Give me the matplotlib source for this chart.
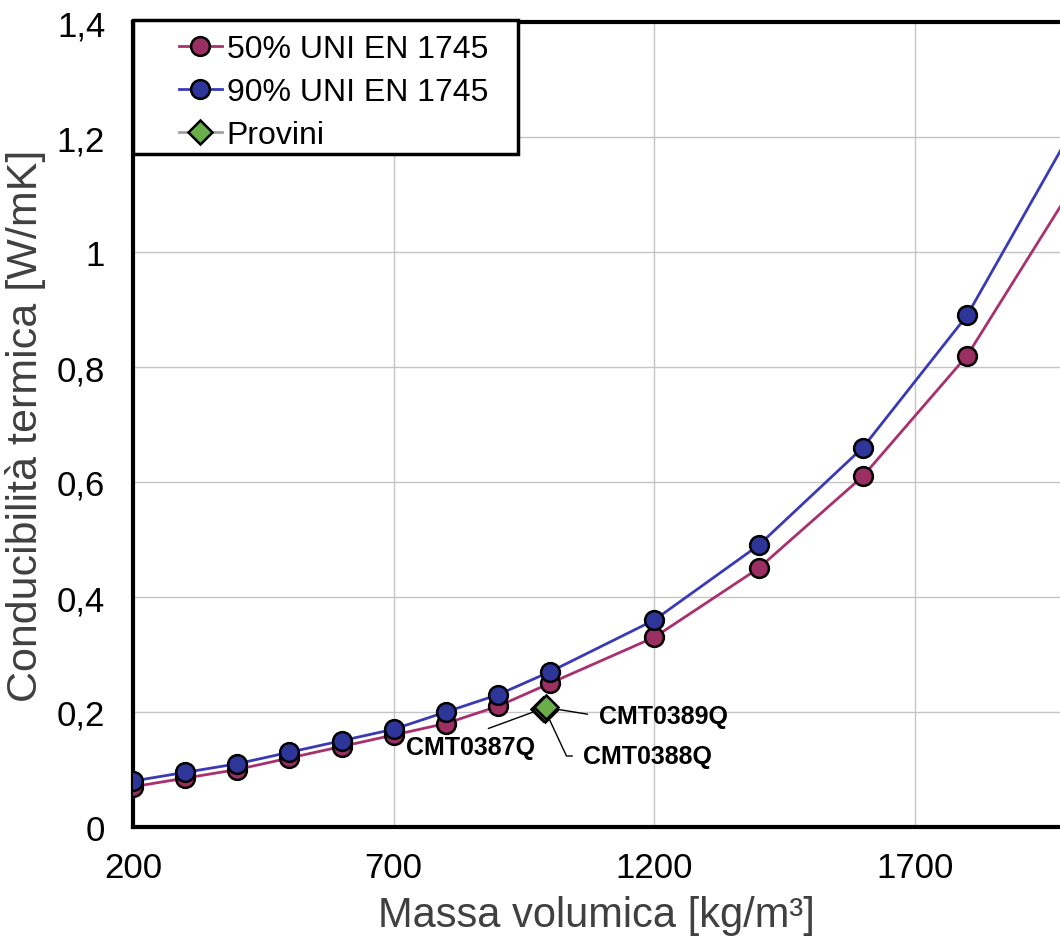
import matplotlib
matplotlib.use('Agg')
import matplotlib.pyplot as plt
from matplotlib.patches import Rectangle

plt.rcParams['font.family'] = ['Liberation Sans', 'DejaVu Sans']

# Data
massa = [200, 300, 400, 500, 600, 700, 800, 900, 1000, 1200, 1400, 1600, 1800, 2000]
uni50 = [0.07, 0.085, 0.10, 0.12, 0.14, 0.16, 0.18, 0.21, 0.25, 0.33, 0.45, 0.61, 0.82, 1.11]
uni90 = [0.08, 0.095, 0.11, 0.13, 0.15, 0.17, 0.20, 0.23, 0.27, 0.36, 0.49, 0.66, 0.89, 1.21]

provini_nomi = ['CMT0387Q', 'CMT0388Q', 'CMT0389Q']
provini_x = [986, 990, 992]
provini_y = [0.206, 0.204, 0.208]

xticks = [200, 700, 1200, 1700]
yticks = [0, 0.2, 0.4, 0.6, 0.8, 1.0, 1.2, 1.4]
ylabels = ['0', '0,2', '0,4', '0,6', '0,8', '1', '1,2', '1,4']

fig = plt.figure(figsize=(10.6, 9.37), dpi=100)
ax = fig.add_axes([133/1060, 109/937, 927/1060, 805/937])

ax.plot(massa, uni50, color='#A8306E', lw=2.0, marker='o', ms=13.5,
        mfc='#9C2F62', mec='black', mew=1.8, label='50% UNI EN 1745', zorder=3)
ax.plot(massa, uni90, color='#3A3AB5', lw=2.0, marker='o', ms=13.5,
        mfc='#2F3699', mec='black', mew=1.8, label='90% UNI EN 1745', zorder=3)
ax.plot(provini_x, provini_y, color='#A0A0A0', lw=2.0, marker='D', ms=12,
        mfc='#6AAE4A', mec='black', mew=1.8, label='Provini', zorder=4)

# labels of the samples
ax.annotate(provini_nomi[2], xy=(provini_x[2], provini_y[2]), xytext=(1093, 0.193),
            ha='left', va='center', fontsize=18, fontweight='bold',
            arrowprops=dict(arrowstyle='-', color='black', lw=1, relpos=(0, 0.5),
                            shrinkA=6, shrinkB=7))
ax.annotate(provini_nomi[0], xy=(provini_x[0], provini_y[0]), xytext=(847, 0.139),
            ha='center', va='center', fontsize=18, fontweight='bold',
            arrowprops=dict(arrowstyle='-', color='black', lw=1, relpos=(0.5, 1.0),
                            shrinkA=8, shrinkB=7))
ax.annotate(provini_nomi[1], xy=(provini_x[1], provini_y[1]), xytext=(1064, 0.1235),
            ha='left', va='center', fontsize=18, fontweight='bold',
            arrowprops=dict(arrowstyle='-', color='black', lw=1, relpos=(0, 0.5),
                            shrinkA=6, shrinkB=7,
                            connectionstyle='angle,angleA=0,angleB=115,rad=0'))

ax.set_xlim(200, 1978)
ax.set_ylim(0, 1.4)
ax.set_xticks(xticks)
ax.set_yticks(yticks)
ax.set_yticklabels(ylabels)
ax.tick_params(axis='both', length=0, labelsize=25)
ax.tick_params(axis='x', pad=17)
ax.tick_params(axis='y', pad=20)
ax.grid(color='#C4C4C4', lw=1)
ax.set_axisbelow(True)

for s in ['left', 'bottom', 'top']:
    ax.spines[s].set_linewidth(3)
    ax.spines[s].set_color('black')
ax.spines['right'].set_visible(False)

ax.set_xlabel('Massa volumica [kg/m³]', fontsize=30, color='#404040', labelpad=8)
ax.set_ylabel('Conducibilità termica [W/mK]', fontsize=31, color='#404040', labelpad=8)

# legend frame drawn by hand, Excel style
frame = Rectangle((0, (828-155)/805), 385/927, (155-21)/805, transform=ax.transAxes,
                  facecolor='white', edgecolor='black', lw=2.5, zorder=5, clip_on=False)
ax.add_patch(frame)
leg = ax.legend(loc='upper left', bbox_to_anchor=(34/927, 1.0), frameon=False,
                fontsize=23, handlelength=1.35, handletextpad=0.15, labelspacing=0.41,
                borderpad=0.37, borderaxespad=0)
leg.set_zorder(6)

fig.savefig('out.png', dpi=100)
